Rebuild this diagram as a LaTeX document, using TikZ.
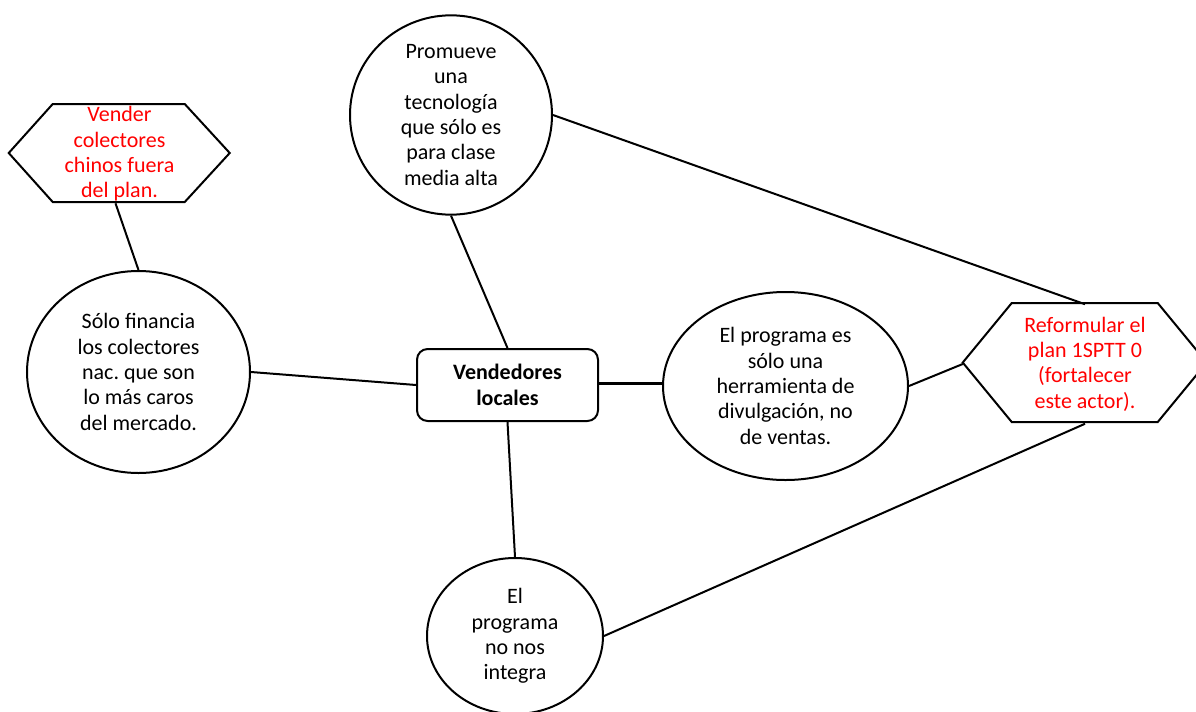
\documentclass[tikz,border=0pt]{standalone}
\usepackage{fontspec}
\setmainfont{Carlito}
\usetikzlibrary{shapes.geometric}
\definecolor{rojo}{RGB}{255,0,0}
\frenchspacing

\tikzstyle{idea} = [ellipse, draw, line width=1.5pt, align=center, inner sep=0pt, font=\fontsize{16.5}{19}\selectfont]
\tikzstyle{actor} = [rectangle, rounded corners=8pt, draw, line width=1.5pt, align=center, minimum width=135.75pt, minimum height=54pt, font=\fontsize{16.5}{19.5}\selectfont\bfseries]
\tikzstyle{accion} = [rectangle, align=center, inner sep=0pt, text=rojo, font=\fontsize{16.5}{19}\selectfont]
\tikzstyle{hexline} = [draw, line width=1.5pt, line join=miter]
\tikzstyle{line} = [draw, line width=1.5pt]
\tikzstyle{thickline} = [draw, line width=2.4pt]

\begin{document}
\begin{tikzpicture}[x=0.75pt,y=-0.75pt]
	\useasboundingbox (0,0) rectangle (1196,711);
	\node (vender) at (119.5,154) [accion, minimum width=165.75pt, minimum height=73.5pt] {Vender\\colectores\\chinos fuera\\del plan.};
	\node (promueve) at (451,115) [idea, minimum width=151.5pt, minimum height=148.5pt] {Promueve\\una\\tecnología\\que sólo es\\para clase\\media alta};
	\node (financia) at (138.5,372) [idea, minimum width=167.25pt, minimum height=151.5pt] {Sólo financia\\los colectores\\nac. que son\\lo más caros\\del mercado.};
	\node (vendedores) at (507.5,385) [actor] {Vendedores\\locales};
	\node (programa) at (785.5,386) [idea, minimum width=183.75pt, minimum height=141pt] {El programa es\\sólo una\\herramienta de\\divulgación, no\\de ventas.};
	\node (integra) at (515,636) [idea, minimum width=132pt, minimum height=117pt] {El\\programa\\no nos\\integra};
	\node (reformular) at (1085,364) [accion, minimum width=183pt, minimum height=89.25pt] {Reformular el\\plan 1SPTT 0\\(fortalecer\\este actor).};
	% hexagons
	\path[hexline] ([yshift=0.75pt]vender.west) -- ++(44,-49) -- ++(132,0) -- ++(45,49) -- ++(-45,49) -- ++(-132,0) -- cycle;
	\path[hexline] ([yshift=1.1pt]reformular.west) -- ++(49,-59.5) -- ++(146,0) -- ++(49,59.5) -- ++(-49,59.5) -- ++(-146,0) -- cycle;
	% connectors
	\path[line] ([xshift=-3pt]vender.south) -- (financia.north);
	\path[line] (promueve.south) -- (vendedores.north);
	\path[line] (promueve.east) -- (reformular.north);
	\path[line] (financia.east) -- (vendedores.west);
	\path[thickline] ([yshift=1.2pt]vendedores.east) -- ([yshift=1.2pt]vendedores.east -| programa.west);
	\path[line] (programa.east) -- (reformular.west);
	\path[line] (vendedores.south) -- (integra.north);
	\path[line] (integra.east) -- (reformular.south);
\end{tikzpicture}
\end{document}
